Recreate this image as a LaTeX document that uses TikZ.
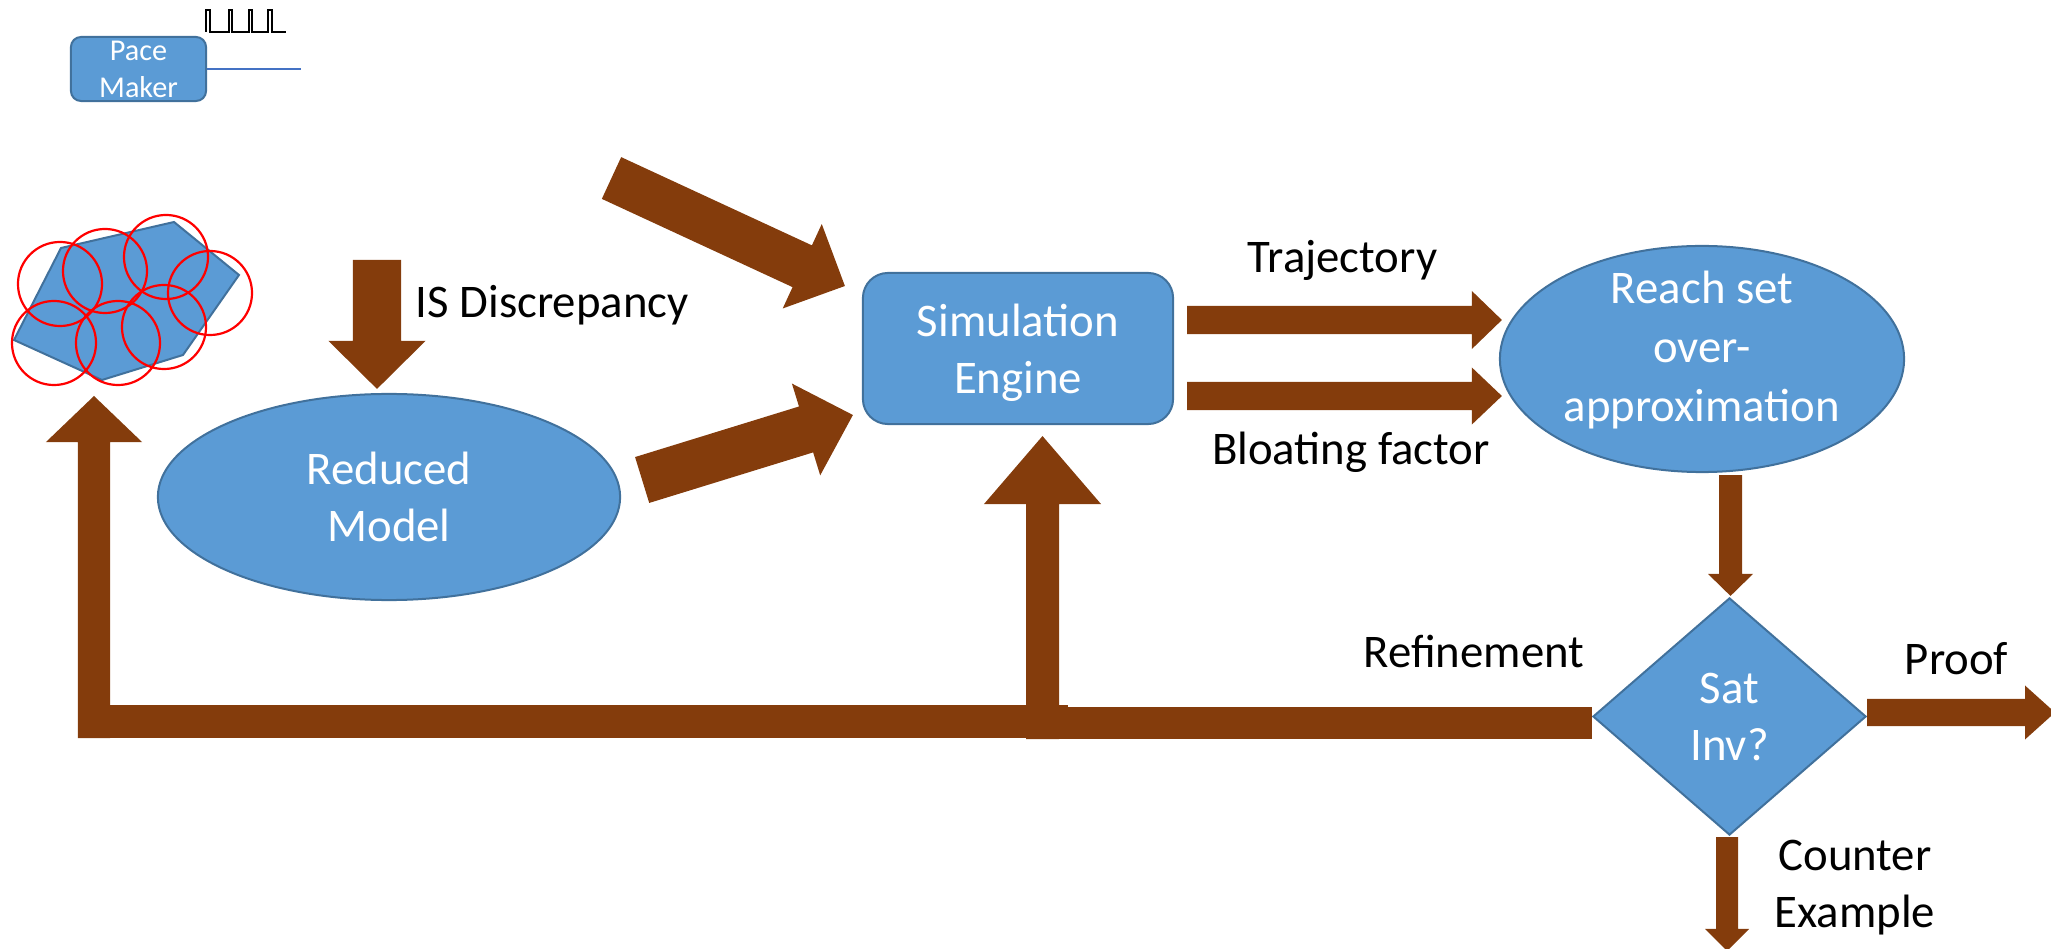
\documentclass[tikz,border=0pt]{standalone}
\usepackage{fontspec}
\setmainfont{Carlito}
\usetikzlibrary{shapes,positioning,arrows,calc}
\usepackage{xcolor}

\definecolor{boxblue}{HTML}{5B9BD5}
\definecolor{boxline}{HTML}{41719C}
\definecolor{arrowbrown}{HTML}{843C0C}
\definecolor{wireblue}{HTML}{4472C4}

% tail, tip, half shaft, half head, head length
\newcommand{\fatarrow}[5]{%
  \coordinate (fat-h) at ($(#2)!#5!(#1)$);
  \fill[arrowbrown] ($(#1)!#3!90:(#2)$) -- ($(fat-h)!#3!-90:(#1)$) -- ($(fat-h)!#4!-90:(#1)$)
    -- (#2) -- ($(fat-h)!#4!90:(#1)$) -- ($(fat-h)!#3!90:(#1)$) -- ($(#1)!#3!-90:(#2)$) -- cycle;
}

\begin{document}
\begin{tikzpicture}[x=0.01cm,y=-0.01cm,
    blob/.style={draw=boxline,fill=boxblue,line width=0.02cm,text=white,align=center,
      inner sep=0pt,font=\fontsize{13.3}{16.2}\selectfont},
    lbl/.style={inner sep=0pt,font=\fontsize{13.3}{16.2}\selectfont},
    bar/.style={draw=arrowbrown,line width=#1},
    ball/.style={draw=red,line width=0.022cm}]
  \useasboundingbox (0,0) rectangle (2051,949);
  \clip (0,0) rectangle (2051,949);

  % pace maker
  \node (pace) at (138.5,69) [blob,rectangle,rounded corners=0.1cm,minimum width=1.35cm,
    minimum height=0.64cm,font=\fontsize{8.6}{10.5}\selectfont] {Pace\\Maker};
  \coordinate (pace-wire) at (301,69);
  \draw[wireblue,line width=0.02cm] (pace.east) -- (pace-wire);
  \draw[black,line width=0.013cm] (206,32) |- (210,10) |- (229,32) |- (232,10) |- (249,32)
    |- (252,10) |- (268,32) |- (272,10) |- (286,32);

  % initial set and its cover
  \filldraw[fill=boxblue,draw=boxline,line width=0.02cm]
    (61,248) -- (174,222) -- (239,275) -- (183,355) -- (102,380) -- (14,340) -- cycle;
  \foreach \c in {(60,284),(105,271),(166,257),(210,293),(54,343),(118,343),(164,327)}
    \draw[ball] \c circle[radius=0.42cm];

  % main blocks
  \node (sim) at (1018,348.5) [blob,rectangle,rounded corners=0.25cm,minimum width=3.1cm,
    minimum height=1.51cm,text depth=0pt] {Simulation\\Engine};
  \node (reduced) at (389,497) [blob,ellipse,minimum width=4.62cm,minimum height=2.06cm] {Reduced\\Model};
  \node (reach) at (1702,359) [blob,ellipse,minimum width=4.04cm,minimum height=2.26cm,
    inner sep=-0.08cm,text depth=0.25cm,font=\fontsize{13.3}{16.8}\selectfont]
    {Reach set\\over-\\approximation};
  \node (sat) at (1729.5,716.5) [blob,diamond,minimum width=2.73cm,minimum height=2.37cm] {Sat\\Inv?};

  % arrow ends
  \coordinate (disc-top) at (377,260);
  \coordinate (disc-tip) at ($(reduced.north)+(-12,-4)$);
  \coordinate (in-top) at (611.5,178);
  \coordinate (se-in-top) at ($(sim.west)+(-17,-62.5)$);
  \coordinate (rm-out) at ($(reduced.east)+(21,-17)$);
  \coordinate (se-in-low) at ($(sim.west)+(-9,66.5)$);
  \coordinate (traj-s) at ($(sim.east)+(13,-28.5)$);
  \coordinate (traj-e) at ($(reach.west)+(3,-39)$);
  \coordinate (bloat-s) at ($(sim.east)+(13,47.5)$);
  \coordinate (bloat-e) at ($(reach.west)+(3,37)$);
  \coordinate (chk-s) at ($(reach.south)+(28.5,2)$);
  \coordinate (chk-e) at ($(sat.north)+(1,-1)$);
  \coordinate (proof-s) at ($(sat.east)+(0,-4)$);
  \coordinate (proof-e) at (2055,712.5);
  \coordinate (cex-s) at ($(sat.south)+(-2.5,1)$);
  \coordinate (cex-e) at (1727,951);

  \fatarrow{disc-top}{disc-tip}{0.24cm}{0.485cm}{0.48cm}
  \fatarrow{in-top}{se-in-top}{0.23cm}{0.465cm}{0.47cm}
  \fatarrow{rm-out}{se-in-low}{0.24cm}{0.48cm}{0.49cm}
  \fatarrow{traj-s}{traj-e}{0.14cm}{0.29cm}{0.3cm}
  \fatarrow{bloat-s}{bloat-e}{0.14cm}{0.285cm}{0.3cm}
  \fatarrow{chk-s}{chk-e}{0.115cm}{0.225cm}{0.22cm}
  \fatarrow{proof-s}{proof-e}{0.135cm}{0.27cm}{0.3cm}
  \fatarrow{cex-s}{cex-e}{0.11cm}{0.22cm}{0.22cm}

  % refinement loop
  \coordinate (fb-mid) at (1026,723);
  \coordinate (fb-mid-base) at (1042.5,739);
  \coordinate (fb-mid-tip) at ($(sim.south)+(24.5,11)$);
  \coordinate (fb-join) at (1068,721.5);
  \coordinate (fb-corner) at (78,721.5);
  \coordinate (set-base) at (94,738);
  \coordinate (set-tip) at (94,396);
  \draw[bar=0.33cm] (fb-join) -- (fb-corner);
  \fatarrow{set-base}{set-tip}{0.16cm}{0.48cm}{0.46cm}
  \draw[bar=0.32cm] (sat.west |- fb-mid) -- (fb-mid);
  \fatarrow{fb-mid-base}{fb-mid-tip}{0.165cm}{0.585cm}{0.68cm}

  % labels
  \node (lbl-disc) at (415,318) [lbl,anchor=base west] {IS Discrepancy};
  \node (lbl-traj) at (1342.5,273) [lbl,anchor=base] {Trajectory};
  \node (lbl-bloat) at (1351,465) [lbl,anchor=base] {Bloating factor};
  \node (lbl-ref) at (1474,667) [lbl,anchor=base] {Refinement};
  \node (lbl-proof) at (1956.5,675) [lbl,anchor=base] {Proof};
  \node (lbl-cex) at (1855,888) [lbl,align=center] {Counter\\Example};
\end{tikzpicture}
\end{document}
